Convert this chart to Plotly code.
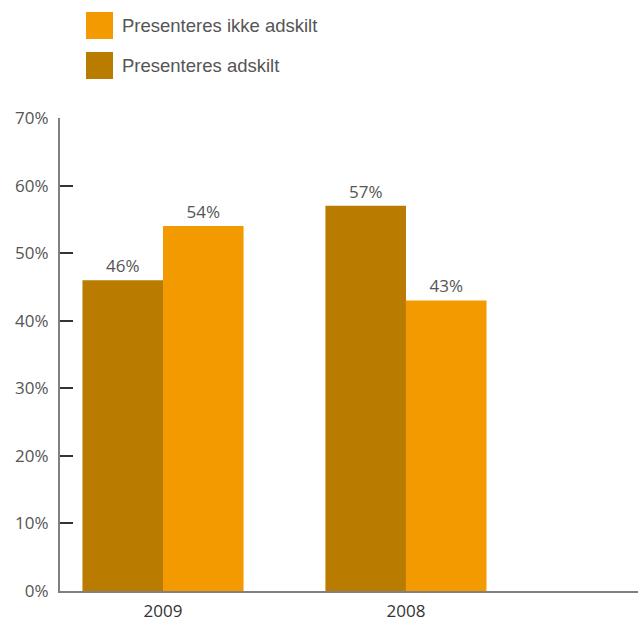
import plotly.graph_objects as go

# Share of reports, by year and presentation
years = ["2009", "2008"]
adskilt = [46, 57]
ikke_adskilt = [54, 43]
series_names = ["Presenteres ikke adskilt", "Presenteres adskilt"]
y_ticks = [0, 10, 20, 30, 40, 50, 60, 70]
y_tick_labels = [f"{v}%" for v in y_ticks]

DARK = "#B97B00"
ORANGE = "#F39A00"
TEXT = "#555555"
FONT = "Open Sans"

fig = go.Figure()
fig.add_trace(go.Bar(
    x=years, y=adskilt, name=series_names[1], marker_color=DARK,
    marker_line_width=0,
    text=[f"{v}%" for v in adskilt], textposition="outside",
    textfont=dict(family=FONT, size=17, color=TEXT), cliponaxis=False,
))
fig.add_trace(go.Bar(
    x=years, y=ikke_adskilt, name=series_names[0], marker_color=ORANGE,
    marker_line_width=0,
    text=[f"{v}%" for v in ikke_adskilt], textposition="outside",
    textfont=dict(family=FONT, size=17, color=TEXT), cliponaxis=False,
))

# Hand-drawn legend with large square swatches
legend_items = [(series_names[0], ORANGE), (series_names[1], DARK)]
for i, (label, color) in enumerate(legend_items):
    top = 12 + i * 40
    fig.add_shape(type="rect", xref="paper", yref="paper",
                  x0=(86 - 60) / 578, x1=(113 - 60) / 578,
                  y0=(591 - (top + 27)) / 473, y1=(591 - top) / 473,
                  fillcolor=color, line=dict(width=0))
    fig.add_annotation(xref="paper", yref="paper",
                       x=(120 - 60) / 578, y=(591 - (top + 13.5)) / 473,
                       xanchor="left", yanchor="middle", showarrow=False,
                       text=label, font=dict(family="Liberation Sans", size=18.5, color=TEXT))

fig.update_layout(
    width=638, height=623,
    margin=dict(l=60, r=0, t=118, b=32, autoexpand=False),
    paper_bgcolor="white", plot_bgcolor="white",
    barmode="group", bargap=0.337, bargroupgap=0,
    showlegend=False,
    font=dict(family=FONT, size=17, color=TEXT),
    xaxis=dict(
        range=[-0.424, 1.955], showline=True, linecolor="#808080", linewidth=2,
        ticks="", showgrid=False, ticklabelstandoff=4, automargin=False,
        tickfont=dict(family=FONT, size=17, color="#333333"),
        fixedrange=True,
    ),
    yaxis=dict(
        range=[0, 70], tickvals=y_ticks, ticktext=y_tick_labels,
        showline=True, linecolor="#808080", linewidth=2,
        ticks="inside", ticklen=13, tickcolor="#333333", tickwidth=1.5,
        showgrid=False, zeroline=False, ticklabelstandoff=6, automargin=False,
        tickfont=dict(family=FONT, size=17, color=TEXT), fixedrange=True,
    ),
)

fig.write_html("out.html")
